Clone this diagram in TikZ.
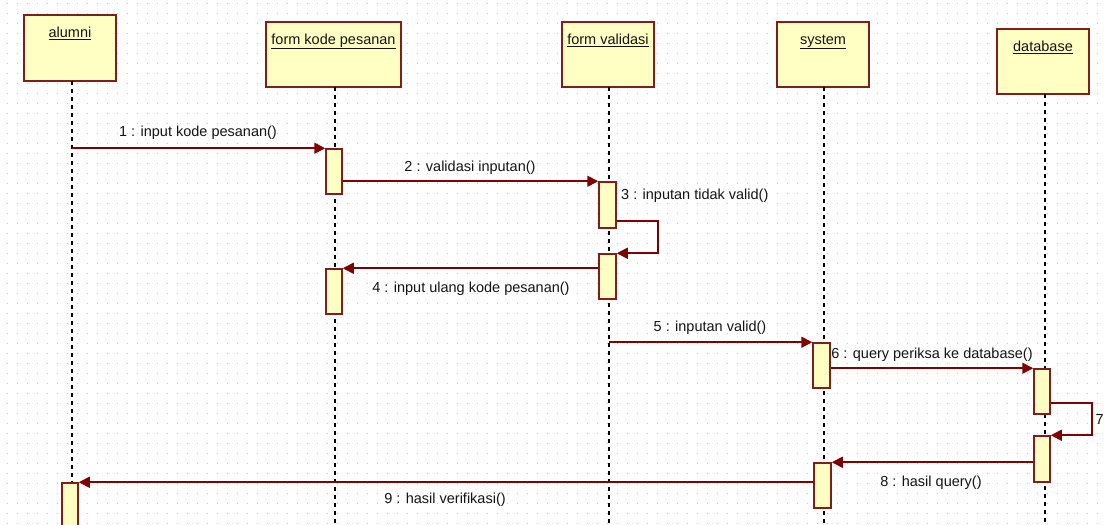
\documentclass[tikz,border=0pt]{standalone}
\usepackage{fontspec}
\setmainfont{Liberation Sans}
\usetikzlibrary{arrows.meta}
\definecolor{boxfill}{RGB}{255,255,196}
\definecolor{maroon}{RGB}{128,0,0}
\definecolor{boxline}{RGB}{128,30,30}
\definecolor{dotc}{RGB}{195,195,195}
\definecolor{txt}{RGB}{20,20,20}
\tikzset{
 headbox/.style={draw=boxline, fill=boxfill, line width=1.5pt, minimum width=92pt, minimum height=66pt, inner sep=0pt},
 headtext/.style={anchor=base, text=txt, font=\fontsize{14.5}{17}\selectfont, inner sep=0pt},
 act/.style={draw=boxline, fill=boxfill, line width=1.5pt, minimum width=16pt, minimum height=45pt, inner sep=0pt},
 life/.style={draw=black, line width=1.2pt, dash pattern=on 4pt off 4pt},
 msg/.style={draw=maroon, line width=1.7pt, -{Triangle[length=11pt,width=11pt]}},
 lbl/.style={text=txt, font=\fontsize{14.5}{17}\selectfont, inner sep=0pt},
}
\begin{document}
\begin{tikzpicture}[x=1pt,y=-1pt]
\useasboundingbox (0,0) rectangle (1104,525);
\fill[white] (0,0) rectangle (1104,525);
% dotted grid
\foreach \gx in {7,17,...,1097}{
  \foreach \gy in {3,13,...,523}{
    \fill[dotc] (\gx,\gy) rectangle +(1.2,1.2);
  }
}
% headers
\node[headbox] (alumni) at (70,48) {};
\node[headbox, minimum width=135pt, minimum height=65pt] (fkp) at (333.5,54.5) {};
\node[headbox, minimum height=65pt] (fval) at (608,54.5) {};
\node[headbox, minimum height=65pt] (sys) at (823,54.5) {};
\node[headbox, minimum height=65pt] (db) at (1043,61.5) {};
\node[headtext] (talumni) at ([yshift=-23pt]alumni.north) {\underline{alumni}};
\node[headtext] (tfkp) at ([yshift=-23pt]fkp.north) {\underline{form kode pesanan}};
\node[headtext] (tfval) at ([yshift=-23pt]fval.north) {\underline{form validasi}};
\node[headtext] (tsys) at ([yshift=-23pt]sys.north) {\underline{system}};
\node[headtext] (tdb) at ([yshift=-23pt]db.north) {\underline{database}};
% lifelines
\coordinate (L1) at (72,81);   \coordinate (L1b) at (72,525);
\coordinate (L2) at (335,87);  \coordinate (L2b) at (335,525);
\coordinate (L3) at (609,87);  \coordinate (L3b) at (609,525);
\coordinate (L4) at (824,87);  \coordinate (L4b) at (824,525);
\coordinate (L5) at (1045,94); \coordinate (L5b) at (1045,525);
\draw[life] (L1) -- (L1b);
\draw[life] (L2) -- (L2b);
\draw[life] (L3) -- (L3b);
\draw[life] (L4) -- (L4b);
\draw[life] (L5) -- (L5b);
% activations
\node[act] (a1) at (334,171.5) {};
\node[act, minimum width=17pt, minimum height=46pt] (a2) at (607.5,205) {};
\node[act, minimum width=17pt] (a3) at (607.5,276.5) {};
\node[act] (a4) at (334,291.5) {};
\node[act, minimum width=17pt] (a5) at (821.5,365.5) {};
\node[act] (a6) at (1042,391.5) {};
\node[act, minimum height=46pt] (a7) at (1042,459) {};
\node[act, minimum width=17pt] (a8) at (822.5,485.5) {};
\node[act, minimum height=60pt] (a9) at (70,513) {};
% messages
\coordinate (s3) at (658,221);
\coordinate (s7) at (1092,403);
\draw[msg] (L1 |- a1.north west) -- (a1.north west);
\draw[msg] (a1.east |- a2.north west) -- (a2.north west);
\draw[msg] (a2.east |- s3) -- (s3) -- (s3 |- a3.north east) -- (a3.north east);
\draw[msg] (a3.west |- a4.north east) -- (a4.north east);
\draw[msg] (L3 |- a5.north west) -- (a5.north west);
\draw[msg] (a5.east |- a6.north west) -- (a6.north west);
\draw[msg] (a6.east |- s7) -- (s7) -- (s7 |- a7.north east) -- (a7.north east);
\draw[msg] (a7.west |- a8.north east) -- (a8.north east);
\draw[msg] (a8.west |- a9.north east) -- (a9.north east);
% labels
\node[lbl] (m1) at (198,133) {1 : input kode pesanan()};
\node[lbl] (m2) at (470,168) {2 : validasi inputan()};
\node[lbl, anchor=west] (m3) at (621,196) {3 : inputan tidak valid()};
\node[lbl] (m4) at (471,289) {4 : input ulang kode pesanan()};
\node[lbl] (m5) at (710,328) {5 : inputan valid()};
\node[lbl] (m6) at (932,355) {6 : query periksa ke database()};
\node[lbl, anchor=west] (m7) at (1095.5,420) {7};
\node[lbl] (m8) at (931,483) {8 : hasil query()};
\node[lbl] (m9) at (445,500) {9 : hasil verifikasi()};
\end{tikzpicture}
\end{document}
